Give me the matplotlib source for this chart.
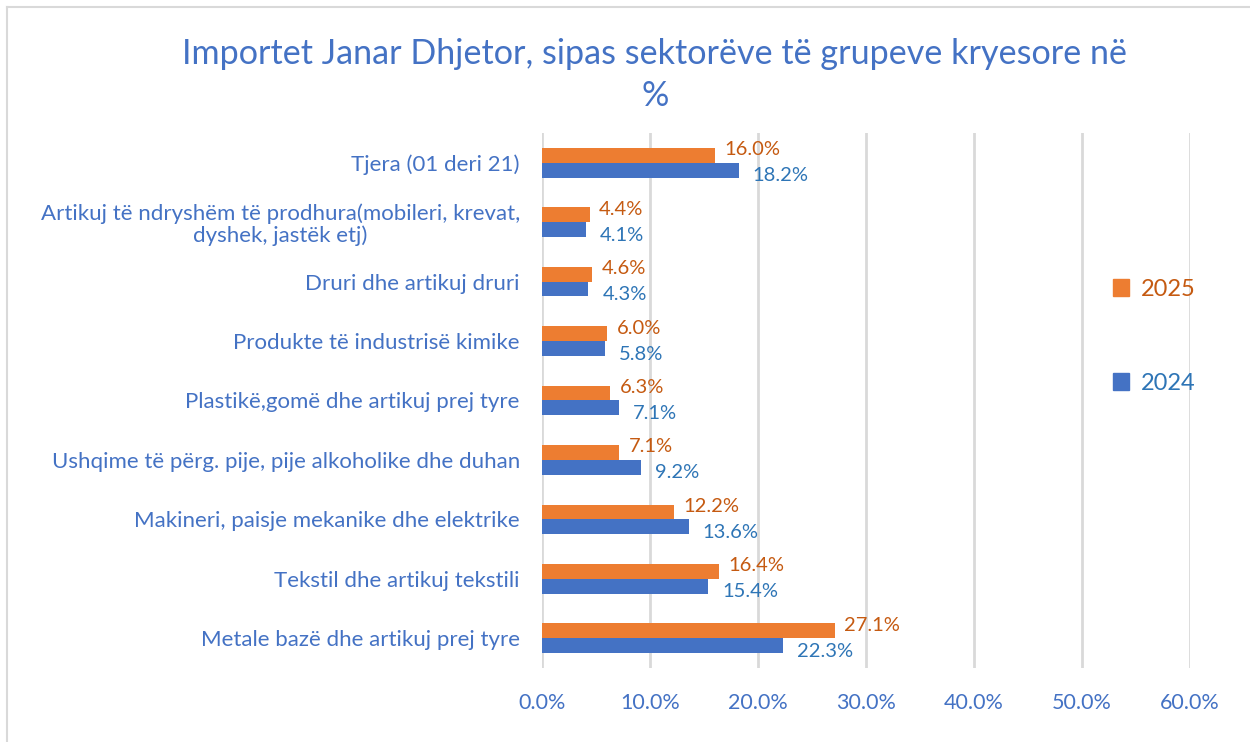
import numpy as np
import matplotlib.pyplot as plt
from matplotlib.patches import Patch
from matplotlib.lines import Line2D
from matplotlib.ticker import PercentFormatter

plt.rcParams['font.family'] = ['Lato', 'DejaVu Sans']

# categories, bottom to top as drawn
categories = [
    "Metale bazë dhe artikuj prej tyre",
    "Tekstil dhe artikuj tekstili",
    "Makineri, paisje mekanike dhe elektrike",
    "Ushqime të përg. pije, pije alkoholike dhe duhan",
    "Plastikë,gomë dhe artikuj prej tyre",
    "Produkte të industrisë kimike",
    "Druri dhe artikuj druri",
    "Artikuj të ndryshëm të prodhura(mobileri, krevat,\ndyshek, jastëk etj)",
    "Tjera (01 deri 21)",
]
vals_2025 = [27.1, 16.4, 12.2, 7.1, 6.3, 6.0, 4.6, 4.4, 16.0]
vals_2024 = [22.3, 15.4, 13.6, 9.2, 7.1, 5.8, 4.3, 4.1, 18.2]
xticks = [0, 10, 20, 30, 40, 50, 60]

blue = '#4472C4'
orange = '#ED7D31'
blue_txt = '#2E75B6'
orange_txt = '#C55A11'

fig = plt.figure(figsize=(12.5, 7.42), dpi=100)
ax = fig.add_axes([0.4336, 0.0997, 0.5184, 0.7211])

y = np.arange(len(categories))
h = 0.25
b25 = ax.barh(y + h / 2, vals_2025, height=h, color=orange, label='2025')
b24 = ax.barh(y - h / 2, vals_2024, height=h, color=blue, label='2024')

lab25 = ax.bar_label(b25, labels=[f'{v:.1f}%' for v in vals_2025], padding=7,
                     color=orange_txt, fontsize=14.5)
lab24 = ax.bar_label(b24, labels=[f'{v:.1f}%' for v in vals_2024], padding=10,
                     color=blue_txt, fontsize=14.5)
# nudge the two labels of a pair apart so they do not collide
for t in lab25:
    t.xyann = (7, 4)
for t in lab24:
    t.xyann = (10, -4)

ax.set_xlim(0, 60)
ax.set_ylim(-0.5, len(categories) - 0.5)
ax.set_xticks(xticks)
ax.xaxis.set_major_formatter(PercentFormatter(decimals=1))
ax.set_yticks(y)
ax.set_yticklabels(categories, color=blue, fontsize=16, ha='right', multialignment='center',
                   linespacing=1.1)
ax.tick_params(axis='x', colors=blue, labelsize=15.5, length=0, pad=18)
ax.tick_params(axis='y', length=0, pad=16)
ax.grid(axis='x', color='#D9D9D9', linewidth=2)
ax.set_axisbelow(True)
for s in ax.spines.values():
    s.set_visible(False)

fig.text(0.524, 0.899, "Importet Janar Dhjetor, sipas sektorëve të grupeve kryesore në\n%",
         ha='center', va='center', color=blue, fontsize=24.6, linespacing=1.4)

handles = [Patch(color=orange), Patch(color=blue)]
fig.legend(handles, ['2025', '2024'], loc='center left', bbox_to_anchor=(0.873, 0.547),
           frameon=False, fontsize=17, labelcolor=[orange_txt, blue_txt],
           handlelength=0.7, handleheight=0.7, handletextpad=0.5, labelspacing=3.1)

# chart area border
fig.add_artist(Line2D([0.0056, 0.0056], [0, 0.9906], color='#D9D9D9', lw=1.5))
fig.add_artist(Line2D([0.0056, 1], [0.9906, 0.9906], color='#D9D9D9', lw=1.5))

fig.savefig('out.png', dpi=100)
